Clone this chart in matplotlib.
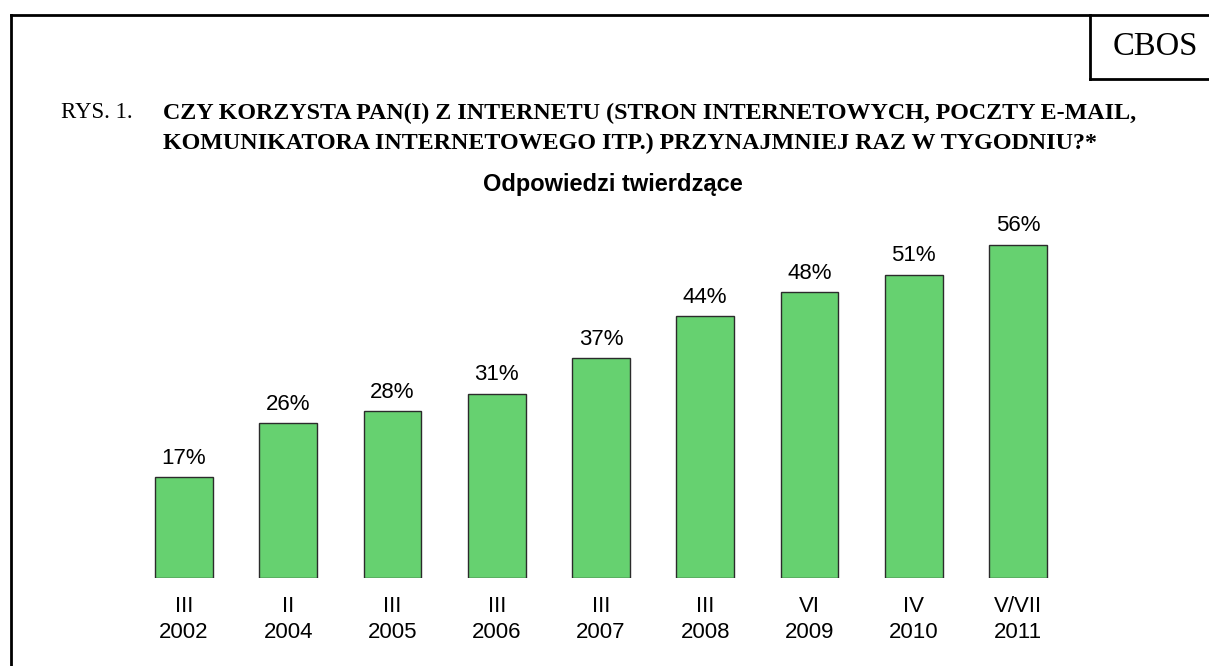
import matplotlib
matplotlib.use("Agg")
import matplotlib.pyplot as plt
from matplotlib.lines import Line2D

months = ["III", "II", "III", "III", "III", "III", "VI", "IV", "V/VII"]
years = ["2002", "2004", "2005", "2006", "2007", "2008", "2009", "2010", "2011"]
values = [17, 26, 28, 31, 37, 44, 48, 51, 56]

W, H = 1209, 666
fig = plt.figure(figsize=(W / 100, H / 100), dpi=100)
fig.patch.set_facecolor("white")

def fx(px):
    return px / W

def fy(py):
    return 1 - py / H

# frame lines
lw = 2
fig.add_artist(Line2D([fx(11), fx(11)], [fy(15), fy(666)], color="black", lw=lw, transform=fig.transFigure))
fig.add_artist(Line2D([fx(11), fx(1209)], [fy(15), fy(15)], color="black", lw=lw, transform=fig.transFigure))
fig.add_artist(Line2D([fx(1090), fx(1090)], [fy(15), fy(79)], color="black", lw=lw, transform=fig.transFigure))
fig.add_artist(Line2D([fx(1090), fx(1209)], [fy(79), fy(79)], color="black", lw=lw, transform=fig.transFigure))

serif = ["Liberation Serif", "DejaVu Serif"]
sans = ["Liberation Sans", "DejaVu Sans"]

fig.text(fx(1155), fy(47), "CBOS", family=serif, fontsize=23.5, ha="center", va="center")
fig.text(fx(61), fy(113), "RYS. 1.", family=serif, fontsize=16.5, ha="left", va="center")
fig.text(fx(163), fy(113), "CZY KORZYSTA PAN(I) Z INTERNETU (STRON INTERNETOWYCH, POCZTY E-MAIL,",
         family=serif, fontsize=17.3, fontweight="bold", ha="left", va="center")
fig.text(fx(163), fy(143), "KOMUNIKATORA INTERNETOWEGO ITP.) PRZYNAJMNIEJ RAZ W TYGODNIU?*",
         family=serif, fontsize=17.3, fontweight="bold", ha="left", va="center")
fig.text(fx(613), fy(184), "Odpowiedzi twierdzące", family=sans, fontsize=17,
         fontweight="bold", ha="center", va="center")

# axes: x from 131.9 to 1070.1 px, baseline 578 px, 60% at 221 px
left, right = 131.9, 1070.1
base, top = 578, 221
ax = fig.add_axes([fx(left), fy(base), fx(right - left), (base - top) / H])
ax.set_xlim(-0.5, len(values) - 0.5)
ax.set_ylim(0, 60)
x = list(range(len(values)))
ax.bar(x, values, width=0.556, color="#66D170", edgecolor="#2b2b2b", linewidth=1)
for xi, v in zip(x, values):
    ax.annotate(f"{v}%", (xi, v), xytext=(0, 6), textcoords="offset points",
                ha="center", va="bottom", family=sans, fontsize=16)
ax.set_xticks(x)
ax.set_xticklabels([f"{m}\n{y}" for m, y in zip(months, years)], family=sans,
                   fontsize=16, linespacing=1.28)
ax.tick_params(axis="x", length=0, pad=13)
ax.set_yticks([])
for s in ax.spines.values():
    s.set_visible(False)
ax.patch.set_alpha(0)

fig.savefig("out.png", dpi=100)
